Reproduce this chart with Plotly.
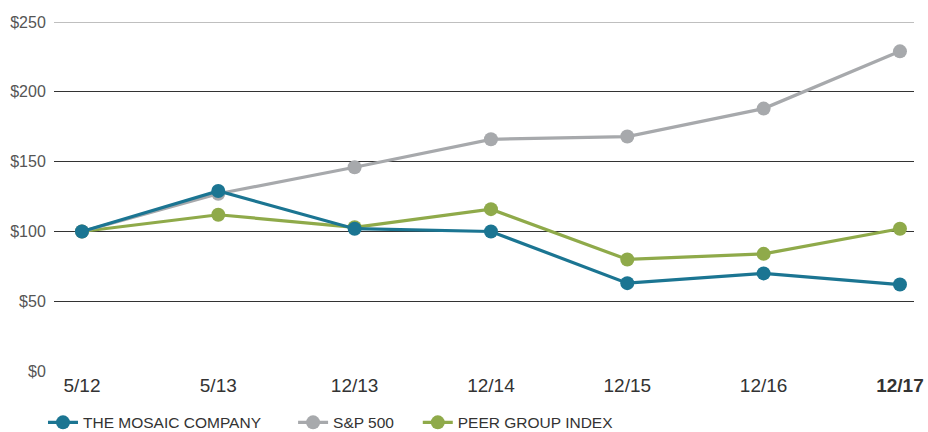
import plotly.graph_objects as go

periods = ["5/12", "5/13", "12/13", "12/14", "12/15", "12/16", "12/17"]
tick_text = periods[:-1] + ["<b>12/17</b>"]
mosaic = [100, 129, 102, 100, 63, 70, 62]
sp500 = [100, 127, 146, 166, 168, 188, 229]
peer = [100, 112, 103, 116, 80, 84, 102]
y_ticks = [0, 50, 100, 150, 200, 250]

TEAL = "#1b7592"
GRAY = "#a7a9ac"
GREEN = "#8faa4a"

x = list(range(len(periods)))

fig = go.Figure()
# draw order: peer, s&p, then mosaic on top
for name, vals, col, leg in [
    ("PEER GROUP INDEX", peer, GREEN, "legend3"),
    ("S&P 500", sp500, GRAY, "legend2"),
    ("THE MOSAIC COMPANY", mosaic, TEAL, "legend"),
]:
    fig.add_trace(go.Scatter(
        x=x, y=vals, name=name, mode="lines+markers",
        line=dict(color=col, width=3.2),
        marker=dict(color=col, size=14),
        cliponaxis=False, legend=leg, showlegend=True,
    ))

leg_common = dict(orientation="h", yanchor="middle", y=-0.145, xanchor="left",
                  font=dict(family="Liberation Sans", size=15.5, color="#333333"),
                  itemwidth=30, bgcolor="rgba(0,0,0,0)")

# top border line is lighter than the other gridlines
fig.add_shape(type="line", xref="paper", x0=0, x1=1, yref="y",
              y0=y_ticks[-1], y1=y_ticks[-1], layer="below",
              line=dict(color="#808080", width=1))

fig.update_layout(
    width=928, height=432,
    showlegend=True,
    margin=dict(l=54, r=14, t=22, b=60, autoexpand=False),
    paper_bgcolor="white", plot_bgcolor="white",
    font=dict(family="Liberation Sans", color="#444444"),
    legend=dict(x=-0.0128, **leg_common),
    legend2=dict(x=0.278, **leg_common),
    legend3=dict(x=0.423, **leg_common),
    xaxis=dict(
        range=[-0.205, 6.103], tickvals=x, ticktext=tick_text,
        showgrid=False, zeroline=False, showline=False,
        tickfont=dict(size=19, color="#333333"),
        ticks="", tickcolor="rgba(0,0,0,0)",
    ),
    yaxis=dict(
        range=[-0.6, 250], tickvals=y_ticks,
        ticktext=[f"${v}" for v in y_ticks],
        showgrid=True, gridcolor="#333333", gridwidth=1,
        zeroline=False, showline=False,
        tickfont=dict(size=16, color="#555555"),
        ticks="outside", ticklen=4, tickcolor="rgba(0,0,0,0)",
    ),
)

fig.write_html("out.html", config={"displayModeBar": False},
               post_script="document.body.style.margin='0px';")
